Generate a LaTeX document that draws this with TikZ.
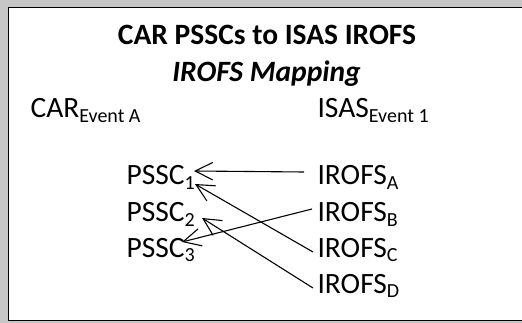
\documentclass[tikz,border=0pt]{standalone}
\usepackage{fontspec}
\setmainfont{Carlito}
\usetikzlibrary{arrows.meta}
\newcommand{\lowtxt}[1]{\raisebox{-4.5pt}{\fontsize{20}{21}\selectfont #1}}

\begin{document}
\begin{tikzpicture}[x=1pt,y=-1pt,line join=round,line width=1.1pt,
    >={Straight Barb[length=17.5pt,width=17.5pt]}]
  \tikzset{every node/.style={inner sep=0pt,font=\fontsize{29.5}{35}\selectfont},
    lbl/.style={anchor=base west}}
  \useasboundingbox (0,0) rectangle (522,323);
  \fill[gray!45] (0,0) rectangle (522,323);
  \begin{scope}
    \clip (0,0) rectangle (522,323);
    \draw[line width=1.5pt,fill=white] (8.5,7.5) rectangle (540,320.5);
  \end{scope}
  % heading
  \node[anchor=base,font=\fontsize{29.5}{35}\selectfont\bfseries] (title) at (267,45) {CAR PSSCs to ISAS IROFS};
  \node[anchor=base,font=\fontsize{29.5}{35}\selectfont\bfseries\itshape] (subtitle) at (266.5,82) {IROFS Mapping};
  \node[lbl] (car) at (30,118) {CAR\lowtxt{Event A}};
  \node[lbl] (isas) at (317,118) {ISAS\lowtxt{Event 1}};
  % left column
  \node[lbl] (pssc1) at (126,185) {PSSC\lowtxt{1}};
  \node[lbl] (pssc2) at (126,222) {PSSC\lowtxt{2}};
  \node[lbl] (pssc3) at (126,257) {PSSC\lowtxt{3}};
  % right column
  \node[lbl] (irofsA) at (317,185) {IROFS\lowtxt{A}};
  \node[lbl] (irofsB) at (317,222) {IROFS\lowtxt{B}};
  \node[lbl] (irofsC) at (317,257) {IROFS\lowtxt{C}};
  \node[lbl] (irofsD) at (317,293) {IROFS\lowtxt{D}};
  % mapping
  \draw[->] ([xshift=-13pt,yshift=13pt]irofsA.base west) -- ([xshift=68pt,yshift=14pt]pssc1.base west);
  \draw[->] ([xshift=-4pt,yshift=5pt]irofsC.base west) -- ([xshift=69pt,yshift=1pt]pssc1.base west);
  \draw[->] ([xshift=-5pt,yshift=13pt]irofsB.base west) -- ([xshift=56pt,yshift=15pt]pssc3.base west);
  \draw[->] ([xshift=-4pt,yshift=5pt]irofsD.base west) -- ([xshift=76pt,yshift=4pt]pssc2.base west);
\end{tikzpicture}
\end{document}
